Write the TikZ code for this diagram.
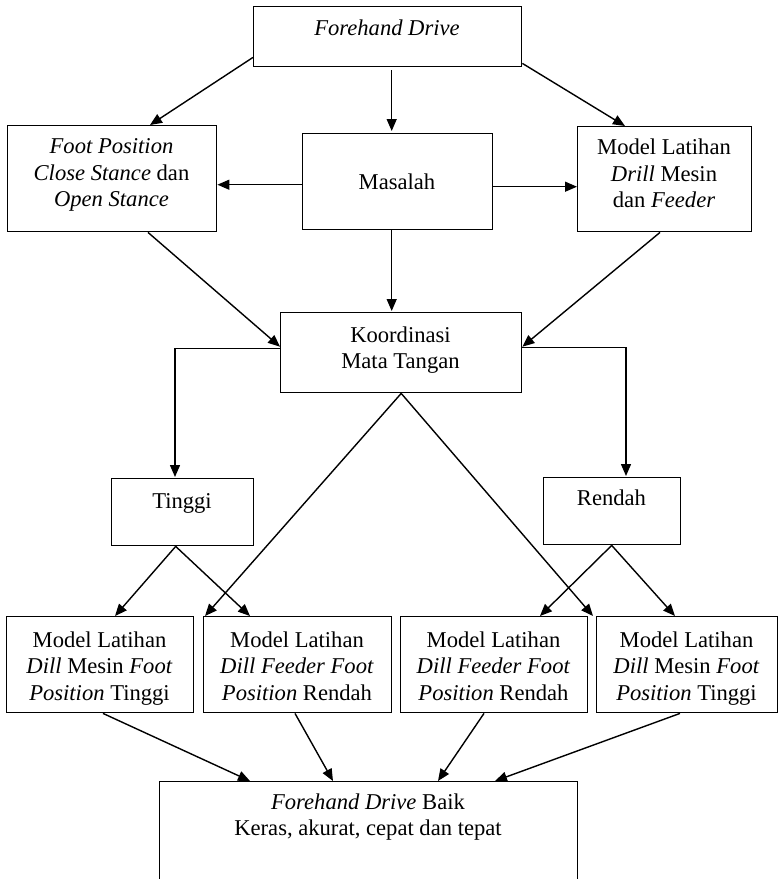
\documentclass[tikz,border=0pt]{standalone}
\usepackage{fontspec}
\setmainfont{Liberation Serif}
\usetikzlibrary{arrows.meta,calc}
\begin{document}
\begin{tikzpicture}[x=1pt,y=-1pt,
  box/.style={draw, line width=1.4pt, inner sep=0pt, anchor=north west},
  txt/.style={align=center, inner sep=0pt, font=\fontsize{22.6}{26.5}\selectfont, text height=16pt, text depth=5pt},
  arr/.style={line width=1.4pt, -{Triangle[length=12pt,width=10pt]}},
  ln/.style={line width=1.4pt}]
\useasboundingbox (0,0) rectangle (778,879);
\fill[white] (0,0) rectangle (778,879);
% boxes
\node[box, minimum width=268, minimum height=60] (top) at (253,6) {};
\node[box, minimum width=209, minimum height=106] (foot) at (7,125) {};
\node[box, minimum width=190, minimum height=96] (mas) at (302,133) {};
\node[box, minimum width=174, minimum height=105] (drill) at (577,126) {};
\node[box, minimum width=241, minimum height=80] (koord) at (280,312) {};
\node[box, minimum width=142, minimum height=67] (tinggi) at (111,478) {};
\node[box, minimum width=137, minimum height=67] (rendah) at (543,477) {};
\node[box, minimum width=187, minimum height=96] (b1) at (6,616) {};
\node[box, minimum width=188, minimum height=96] (b2) at (203,616) {};
\node[box, minimum width=187, minimum height=96] (b3) at (400,616) {};
\node[box, minimum width=181, minimum height=96] (b4) at (596,616) {};
\begin{scope}
\clip (0,0) rectangle (778,879);
\node[box, minimum width=418, minimum height=115] (final) at (159,781) {};
\end{scope}
% texts (y = last line)
\node[txt] (ttop) at (387,30) {\textit{Forehand Drive}};
\node[txt] (tfoot) at (111.5,201) {\textit{Foot Position}\\\textit{Close Stance} dan\\\textit{Open Stance}};
\node[txt] (tmas) at (397,184) {Masalah};
\node[txt] (tdrill) at (664,202) {Model Latihan\\\textit{Drill} Mesin\\dan \textit{Feeder}};
\node[txt] (tkoord) at (400.5,363) {Koordinasi\\Mata Tangan};
\node[txt] (ttinggi) at (182,503) {Tinggi};
\node[txt] (trendah) at (611.5,500) {Rendah};
\node[txt] (tb1) at (99.5,694.5) {Model Latihan\\\textit{Dill} Mesin \textit{Foot}\\\textit{Position} Tinggi};
\node[txt] (tb2) at (297,694.5) {Model Latihan\\\textit{Dill Feeder Foot}\\\textit{Position} Rendah};
\node[txt] (tb3) at (493.5,694.5) {Model Latihan\\\textit{Dill Feeder Foot}\\\textit{Position} Rendah};
\node[txt] (tb4) at (686.5,694.5) {Model Latihan\\\textit{Dill} Mesin \textit{Foot}\\\textit{Position} Tinggi};
\node[txt] (tfinal) at (368,830) {\textit{Forehand Drive} Baik\\Keras, akurat, cepat dan tepat};
% connectors
\draw[arr] ($(top.south west)+(0,-10)$) -- ($(foot.north west)+(143,0)$);
\draw[arr] ($(top.south)+(4,3)$) -- ($(mas.north)+(-6,-2)$);
\draw[arr] ($(top.south east)+(0,-4)$) -- ($(drill.north west)+(48,0)$);
\draw[arr] ($(mas.west)+(0,3)$) -- ($(foot.east)+(0,6)$);
\draw[arr] ($(mas.east)+(0,5)$) -- ($(drill.west)+(0,7.5)$);
\draw[arr] ($(foot.south west)+(141,0)$) -- ($(koord.west)+(0,-6)$);
\draw[arr] ($(mas.south)+(-6,0)$) -- ($(koord.north)+(-9.5,-1)$);
\draw[arr] ($(drill.south west)+(83,0)$) -- ($(koord.east)+(0,-6)$);
\draw[arr] ($(koord.west)+(0,-4)$) -| ($(tinggi.north west)+(64,-1)$);
\draw[arr] ($(koord.east)+(0,-5)$) -| ($(rendah.north west)+(83,-1)$);
\draw[arr] (koord.south) -- ($(b2.north west)+(2,0)$);
\draw[arr] (koord.south) -- ($(b4.north west)+(-3,0)$);
\draw[arr] ($(tinggi.south)+(-7,0)$) -- ($(b1.north west)+(109,0)$);
\draw[arr] ($(tinggi.south)+(-7,0)$) -- ($(b2.north west)+(47,0)$);
\draw[arr] ($(rendah.south)+(-0.5,0)$) -- ($(b3.north west)+(140,0)$);
\draw[arr] ($(rendah.south)+(-0.5,0)$) -- ($(b4.north west)+(79,0)$);
\draw[arr] ($(b1.south west)+(97,0)$) -- ($(final.north west)+(91,0)$);
\draw[arr] ($(b2.south west)+(92,0)$) -- ($(final.north west)+(174,0)$);
\draw[arr] ($(b3.south west)+(84,0)$) -- ($(final.north west)+(279,0)$);
\draw[arr] ($(b4.south west)+(84,0)$) -- ($(final.north west)+(336,0)$);
\end{tikzpicture}
\end{document}
